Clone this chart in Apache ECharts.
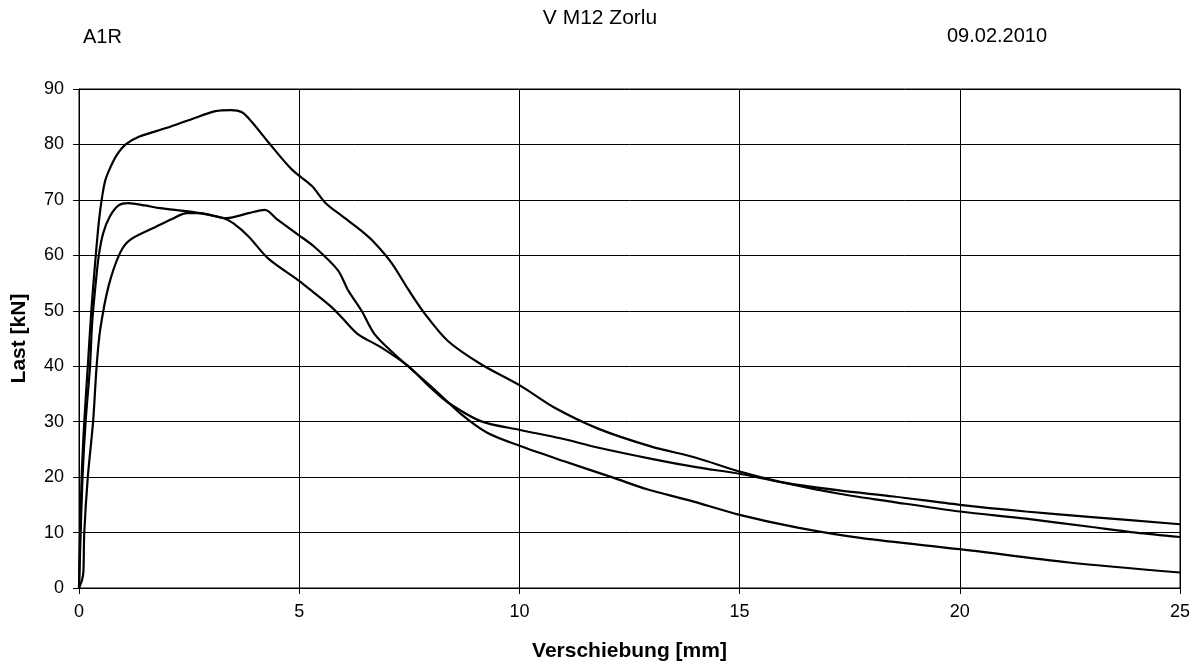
<!DOCTYPE html>
<html lang="de">
<head>
    <meta charset="UTF-8">
    <title>V M12 Zorlu</title>
    <script src="https://cdn.jsdelivr.net/npm/echarts@6/dist/echarts.min.js"></script>
    <style>
        html, body { margin: 0; padding: 0; background: #fff; }
    </style>
</head>
<body>
<div id="main" style="width: 1200px;height:668px;"></div>
<script type="text/javascript">
    // Verschiebung [mm] / Last [kN]
    var curveA = [
        [0, 0], [0.02, 8], [0.06, 20], [0.12, 30], [0.2, 40], [0.28, 50], [0.36, 58], [0.45, 66],
        [0.53, 70.8], [0.6, 73.6], [0.72, 76.0], [0.85, 78.0], [1.06, 80.0], [1.36, 81.4], [2.0, 83],
        [2.57, 84.6], [3.1, 86.0], [3.44, 86.2], [3.7, 85.8], [3.93, 84.0], [4.31, 80.3], [4.83, 75.5],
        [5.29, 72.5], [5.59, 69.5], [5.97, 67.1], [6.4, 64.5], [6.72, 62.2], [7.1, 58.6], [7.48, 53.8],
        [7.85, 49.5], [8.37, 44.6], [9.12, 40.4], [10.02, 36.5], [10.78, 32.6], [11.8, 28.7],
        [13.0, 25.5], [14.01, 23.5], [15.0, 21.0], [16.0, 19.0], [17.26, 17.0], [18.5, 15.5],
        [20, 13.8], [21.5, 12.5], [23, 11.0], [24, 10.0], [25, 9.2]
    ];
    var curveB = [
        [0, 0], [0.03, 8], [0.08, 20], [0.15, 30], [0.25, 40], [0.3, 48], [0.38, 55], [0.45, 60],
        [0.55, 64], [0.7, 67], [0.9, 69], [1.12, 69.4], [1.5, 69], [1.84, 68.5], [2.6, 67.8],
        [3.28, 66.7], [3.5, 65.8], [3.85, 63.4], [4.3, 59.4], [4.98, 55.5], [5.3, 53.5], [5.73, 50.7],
        [6.0, 48.5], [6.33, 45.8], [6.86, 43.4], [7.46, 40.1], [8.0, 36.0], [8.37, 33.5], [9.12, 30.1],
        [10.02, 28.5], [10.93, 27.0], [11.8, 25.3], [13.0, 23.3], [14.01, 21.8], [15.0, 20.6],
        [16.0, 19.0], [17.26, 17.6], [18.5, 16.5], [20, 15.0], [21.5, 13.8], [23, 12.8], [25, 11.5]
    ];
    var curveC = [
        [0, 0], [0.07, 1.5], [0.1, 3], [0.12, 10], [0.2, 20], [0.32, 30], [0.4, 40], [0.48, 46.5],
        [0.67, 54.4], [0.93, 60.4], [1.16, 62.8], [1.76, 65.2], [2.1, 66.5], [2.45, 67.6], [2.75, 67.6],
        [3.35, 66.7], [3.85, 67.6], [4.22, 68.2], [4.5, 66.5], [4.98, 63.7], [5.35, 61.5], [5.88, 57.3],
        [6.11, 53.7], [6.41, 50.1], [6.71, 45.8], [7.16, 42.2], [7.46, 40.1], [8.06, 35.9], [8.67, 31.4],
        [9.27, 28.0], [10.02, 25.6], [11.0, 22.9], [12.13, 19.9], [12.9, 17.8], [13.86, 15.8],
        [15.0, 13.2], [16.32, 10.9], [17.78, 9.0], [20, 7.0], [22.48, 4.6], [25, 2.8]
    ];
    var seriesData = [curveA, curveB, curveC];

    var font = 'Arial, "Liberation Sans", sans-serif';
    var headStyle = { fontFamily: font, fontSize: 20, fontWeight: 'normal', color: '#000' };

    var myChart = echarts.init(document.getElementById('main'));

    var option = {
        backgroundColor: '#fff',
        animation: false,
        title: [
            { text: 'V M12 Zorlu', left: 'center', top: 3, textStyle: Object.assign({}, headStyle, { fontSize: 21 }) },
            { text: 'A1R', left: 78, top: 22, textStyle: headStyle },
            { text: '09.02.2010', left: 942, top: 21, textStyle: headStyle }
        ],
        grid: { left: 79, right: 20, top: 89, bottom: 80, show: true, borderColor: '#000', borderWidth: 1 },
        xAxis: {
            type: 'value',
            min: 0, max: 25, interval: 5,
            name: 'Verschiebung [mm]',
            nameLocation: 'middle',
            nameGap: 53,
            nameTextStyle: { fontFamily: font, fontSize: 21, fontWeight: 'bold', color: '#000' },
            axisLine: { show: true, lineStyle: { color: '#000', width: 1 } },
            axisTick: { show: true, length: 6, lineStyle: { color: '#000' } },
            axisLabel: { fontFamily: font, fontSize: 18, color: '#000', margin: 15 },
            splitLine: { show: true, lineStyle: { color: '#000', width: 1 } }
        },
        yAxis: {
            type: 'value',
            min: 0, max: 90, interval: 10,
            name: 'Last [kN]',
            nameLocation: 'middle',
            nameRotate: 90,
            nameGap: 49,
            nameTextStyle: { fontFamily: font, fontSize: 21, fontWeight: 'bold', color: '#000' },
            axisLine: { show: true, lineStyle: { color: '#000', width: 1 } },
            axisTick: { show: true, length: 6, lineStyle: { color: '#000' } },
            axisLabel: { fontFamily: font, fontSize: 18, color: '#000', margin: 15 },
            splitLine: { show: true, lineStyle: { color: '#000', width: 1 } }
        },
        series: seriesData.map(function (d) {
            return {
                type: 'line',
                data: d,
                showSymbol: false,
                smooth: 0.3,
                lineStyle: { color: '#000', width: 2.2 }
            };
        })
    };

    myChart.setOption(option);
</script>
</body>
</html>
